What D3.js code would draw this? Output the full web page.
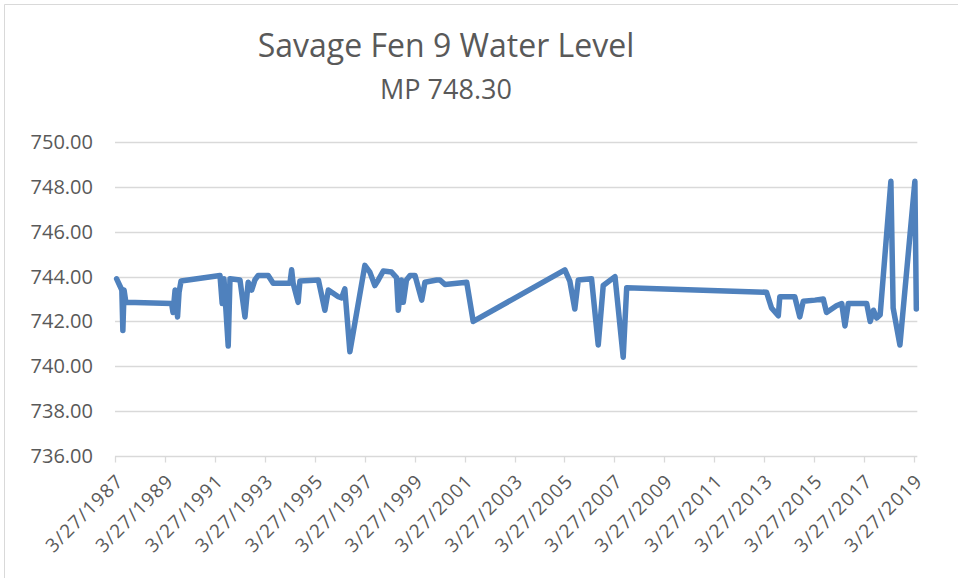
<!DOCTYPE html>
<html>
<head>
<meta charset="utf-8">
<script src="https://cdn.jsdelivr.net/npm/d3@7"></script>
<style>
body{margin:0;background:#fff}
svg{display:block;font-family:"Open Sans",sans-serif}
</style>
</head>
<body>
<div id="chart"></div>
<script>
const chartTitle="Savage Fen 9 Water Level"
const chartSubtitle="MP 748.30"

const dates=["1987-04-20","1987-07-05","1987-07-20","1987-08-07","1987-09-02",
"1989-07-02","1989-07-23","1989-08-22","1989-09-27","1989-10-19","1989-11-17",
"1991-06-10","1991-07-12","1991-08-07","1991-10-08","1991-11-03",
"1992-03-28","1992-06-09","1992-07-26","1992-09-15","1992-11-02","1992-12-20",
"1993-05-15","1993-07-27","1994-03-29","1994-04-23","1994-05-15","1994-07-27","1994-08-22",
"1995-05-19","1995-08-22","1995-10-12","1996-03-06","1996-04-23","1996-06-09","1996-08-22",
"1997-03-29","1997-06-10","1997-08-22","1997-10-12","1997-12-24",
"1998-04-23","1998-07-05","1998-07-31","1998-09-16","1998-10-12","1998-11-28",
"1999-01-19","1999-04-02","1999-07-09","1999-08-25","2000-02-13","2000-04-01","2000-06-13",
"2001-04-27","2001-07-31","2005-04-02","2005-06-13","2005-08-25","2005-10-15",
"2006-04-27","2006-08-03","2006-10-15","2007-04-05","2007-08-03","2007-09-23",
"2013-04-30","2013-07-12","2013-10-19","2013-11-10","2014-06-17","2014-08-29","2014-10-19",
"2015-04-08","2015-08-08","2015-09-24","2016-02-16","2016-05-04","2016-06-20","2016-08-08",
"2017-05-04","2017-06-24","2017-08-11","2017-09-27","2017-11-17",
"2018-04-23","2018-05-26","2018-09-02","2019-04-09","2019-04-30"]

const levels=[743.9,743.4,741.6,743.4,742.85,
742.8,742.4,743.4,742.2,743.3,743.8,
744.05,742.8,743.9,740.9,743.9,
743.85,742.2,743.75,743.4,743.85,744.05,
744.05,743.7,743.7,744.3,743.7,742.85,743.8,
743.85,742.5,743.4,743.1,743.05,743.45,740.65,
744.5,744.2,743.6,743.85,744.25,
744.2,743.95,742.5,743.85,742.85,743.85,
744.05,744.05,742.95,743.75,743.85,743.85,743.65,
743.75,742.0,744.3,743.8,742.55,743.85,
743.9,740.95,743.6,744.0,740.4,743.5,
743.3,742.6,742.25,743.1,743.1,742.2,742.9,
742.95,743.0,742.4,742.7,742.8,741.8,742.8,
742.8,742.0,742.5,742.15,742.3,
748.25,742.6,740.95,748.25,742.55]

const yTicks=[736,738,740,742,744,746,748,750]
const xTickYears=[1987,1989,1991,1993,1995,1997,1999,2001,2003,2005,2007,2009,2011,2013,2015,2017,2019]

const width=958
const height=581
const plotLeft=115,plotRight=914,plotTop=142,plotBottom=456

const parse=d3.timeParse("%Y-%m-%d")
const data=dates.map((d,i)=>({date:parse(d),value:levels[i]}))
const xTicks=xTickYears.map(yr=>new Date(yr,2,27))

const svg=d3.select("#chart")
.append("svg")
.attr("width",width)
.attr("height",height)

svg.append("path")
.attr("d","M4.5,578V4.5H"+width)
.attr("fill","none")
.attr("stroke","#d9d9d9")

const x=d3.scaleTime()
.domain([xTicks[0],xTicks[xTicks.length-1]])
.range([plotLeft,plotRight])

const y=d3.scaleLinear()
.domain([736,750])
.range([plotBottom,plotTop])

const gridEnd=x(data[data.length-1].date)+1

svg.append("g")
.selectAll("line")
.data(yTicks.filter(v=>v!=736))
.enter()
.append("line")
.attr("x1",plotLeft)
.attr("x2",gridEnd)
.attr("y1",d=>Math.round(y(d))+0.5)
.attr("y2",d=>Math.round(y(d))+0.5)
.attr("stroke","#d9d9d9")
.attr("stroke-width",1.3)

svg.append("g")
.selectAll("text")
.data(yTicks)
.enter()
.append("text")
.attr("x",93)
.attr("y",d=>y(d))
.attr("dy","0.35em")
.attr("text-anchor","end")
.attr("font-size",20)
.attr("fill","#595959")
.text(d=>d.toFixed(2))

const xAxis=svg.append("g")
.attr("transform","translate(0,"+(Math.round(plotBottom)+0.5)+")")

xAxis.append("line")
.attr("x1",plotLeft)
.attr("x2",gridEnd)
.attr("stroke","#d9d9d9")
.attr("stroke-width",1.3)

xAxis.selectAll(".tick")
.data(xTicks)
.enter()
.append("line")
.attr("x1",d=>Math.round(x(d))+0.5)
.attr("x2",d=>Math.round(x(d))+0.5)
.attr("y1",0)
.attr("y2",6)
.attr("stroke","#d9d9d9")
.attr("stroke-width",1.3)

const fmt=d=>(d.getMonth()+1)+"/"+d.getDate()+"/"+d.getFullYear()

xAxis.selectAll(".lab")
.data(xTicks)
.enter()
.append("text")
.attr("transform",d=>"translate("+(x(d)+5)+",21) rotate(-45)")
.attr("text-anchor","end")
.attr("dy","0.35em")
.attr("font-size",19)
.attr("letter-spacing",1.2)
.attr("fill","#595959")
.text(fmt)

const line=d3.line()
.x(d=>x(d.date))
.y(d=>y(d.value))

svg.append("path")
.datum(data)
.attr("d",line)
.attr("fill","none")
.attr("stroke","#4f81bd")
.attr("stroke-width",5.5)
.attr("stroke-linejoin","round")
.attr("stroke-linecap","round")

svg.append("text")
.attr("x",446)
.attr("y",57)
.attr("text-anchor","middle")
.attr("font-size",32)
.attr("fill","#595959")
.text(chartTitle)

svg.append("text")
.attr("x",446)
.attr("y",99)
.attr("text-anchor","middle")
.attr("font-size",27)
.attr("fill","#595959")
.text(chartSubtitle)
</script>
</body>
</html>
